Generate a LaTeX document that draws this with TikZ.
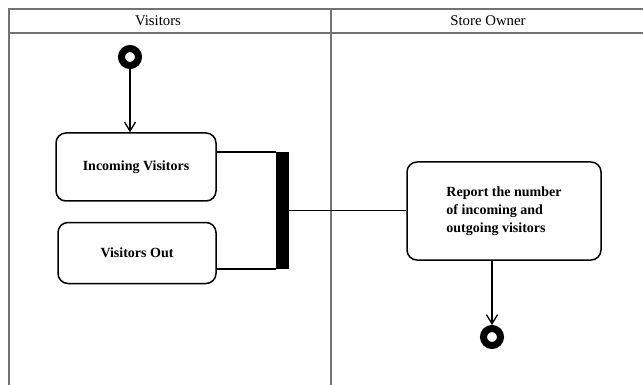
\documentclass[tikz,border=0pt]{standalone}
\usepackage{fontspec}
\setmainfont{Liberation Serif}
\usetikzlibrary{arrows.meta, positioning}

\begin{document}
\begin{tikzpicture}[
  x=1pt, y=-1pt,
  font=\fontsize{14.8}{18}\selectfont,
  lane/.style={draw=black!55, line width=1.3pt},
  box/.style={draw, rounded corners=10pt, line width=1.5pt, align=center,
              inner sep=0pt, font=\fontsize{14}{18}\selectfont\bfseries},
  ring/.style={circle, draw, line width=7pt, minimum size=17pt, inner sep=0pt},
  arrow/.style={-{Straight Barb[length=9pt, width=11pt, line width=1.3pt]},
                line width=1.4pt},
  link/.style={line width=1.5pt}
]
\useasboundingbox (0,0) rectangle (643,385);

% swimlanes
\draw[lane] (9,385) -- (9,9) -- (643,9);
\draw[lane] (9,33) -- (643,33);
\draw[lane] (331,9) -- (331,385);
\node (visitors) at (158,21) {Visitors};
\node (owner) at (488,21) {Store Owner};

% activities
\node[ring] (start) at (130,57) {};
\node[box, minimum width=160pt, minimum height=68pt] (incoming) at (136,167)
  {Incoming Visitors};
\node[box, minimum width=158pt, minimum height=61pt] (out) at (137,253)
  {Visitors Out};
\node[fill, inner sep=0pt, minimum width=13pt, minimum height=117pt] (bar)
  at (282.5,210.5) {};
\node[box, minimum width=194pt, minimum height=98pt, align=left] (report)
  at (504,211) {Report the number\\of incoming and\\outgoing visitors};
\node[ring] (end) at (492,337) {};

% flows
\draw[arrow] (start) -- (start |- incoming.north);
\draw[link] (bar.north west -| incoming.east) -- (bar.north west);
\draw[link] (bar.south west -| out.east) -- (bar.south west);
\draw[link] (bar.east) -- (bar.east -| report.west);
\draw[arrow] (report.south -| end) -- (end);

\end{tikzpicture}
\end{document}
